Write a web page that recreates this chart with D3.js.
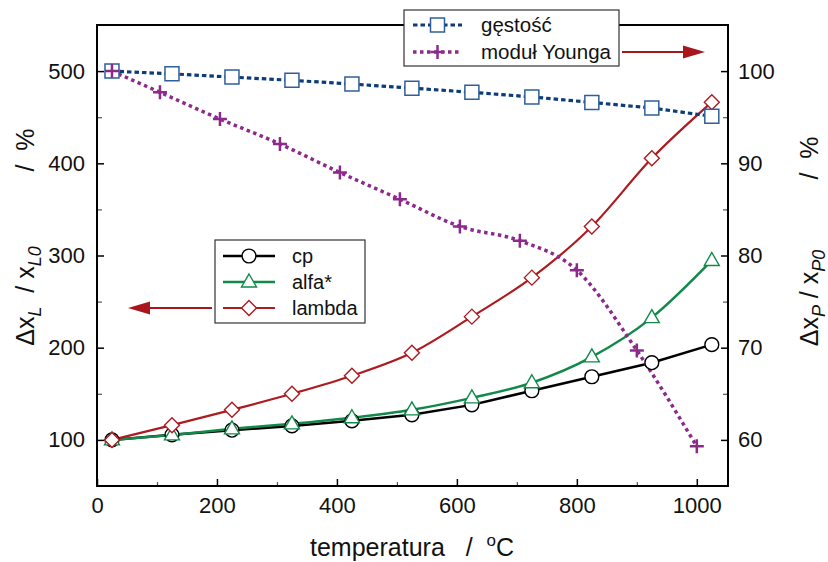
<!DOCTYPE html>
<html>
<head>
<meta charset="utf-8">
<script src="https://cdn.jsdelivr.net/npm/d3@7"></script>
<style>
  html, body { margin: 0; padding: 0; background: #fff; }
  svg { display: block; font-family: "Liberation Sans", Arial, sans-serif; }
  text { white-space: pre; }
</style>
</head>
<body>
<svg id="chart" width="828" height="562"></svg>
<script>
// ---------- data ----------
const temps = [25, 125, 225, 325, 425, 525, 625, 725, 825, 925, 1025];
const cp =     [100, 105.5, 110.5, 115.2, 120.7, 127.2, 138, 153.3, 168.5, 183.7, 203.3];
const alfa =   [100, 105.4, 112, 117.4, 124, 132.6, 145.6, 162, 190, 232.6, 294.6];
const lambda = [100, 116, 132.6, 150, 169.6, 194.5, 233.7, 276, 331.5, 405.4, 466.3];
const densityT = [25, 125, 225, 325, 425, 525, 625, 725, 825, 925, 1025];
const density = [100, 99.7, 99.35, 99.0, 98.6, 98.15, 97.7, 97.2, 96.6, 96.0, 95.1];
const youngT = [25, 105, 205, 305, 405, 505, 605, 705, 800, 900, 1000];
const young =  [100, 97.7, 94.8, 92.1, 89.0, 86.1, 83.15, 81.6, 78.4, 69.7, 59.3];
const xTickValues = [0, 200, 400, 600, 800, 1000];
const leftTickValues = [100, 200, 300, 400, 500];
const rightTickValues = [60, 70, 80, 90, 100];

// ---------- layout ----------
const svg = d3.select("#chart");
const L = 97, R = 728, T = 25, B = 486;
const x = d3.scaleLinear().domain([0, 1052]).range([L, R]);
const yL = d3.scaleLinear().domain([50, 550]).range([B, T]);
const yR = d3.scaleLinear().domain([55, 105]).range([B, T]);

const colors = {
  density: "#0d3c78", densityMk: "#2f5f9a",
  young: "#8c2a8c",
  cp: "#000000",
  alfa: "#11894a",
  lambda: "#ad1a1f",
  arrow: "#a8161b"
};

// ---------- axes ----------
function styleAxis(g, fs) {
  g.select(".domain").remove();
  g.selectAll("text").attr("font-size", fs).attr("fill", "#111")
    .attr("font-family", "Liberation Sans, Arial, sans-serif");
  g.selectAll("line").attr("stroke", "#000").attr("stroke-width", 1.5);
}

// minor ticks
const minorX = d3.range(100, 1050, 200);
const minorL = d3.range(150, 550, 100);
const minorR = d3.range(65, 105, 10);

svg.append("g").attr("transform", `translate(0,${B})`)
  .call(d3.axisBottom(x).tickValues(minorX).tickSize(-4).tickFormat(""))
  .call(g => { g.select(".domain").remove(); g.selectAll("line").attr("stroke", "#555").attr("stroke-width", 1.2); });
svg.append("g").attr("transform", `translate(${L},0)`)
  .call(d3.axisLeft(yL).tickValues(minorL).tickSize(-5).tickFormat(""))
  .call(g => { g.select(".domain").remove(); g.selectAll("line").attr("stroke", "#555").attr("stroke-width", 1.2); });
svg.append("g").attr("transform", `translate(${R},0)`)
  .call(d3.axisRight(yR).tickValues(minorR).tickSize(-5).tickFormat(""))
  .call(g => { g.select(".domain").remove(); g.selectAll("line").attr("stroke", "#555").attr("stroke-width", 1.2); });

svg.append("g").attr("transform", `translate(0,${B})`)
  .call(d3.axisBottom(x).tickValues(xTickValues).tickSize(-7).tickPadding(11).tickFormat(d3.format("d")))
  .call(g => styleAxis(g, 22));
svg.append("g").attr("transform", `translate(${L},0)`)
  .call(d3.axisLeft(yL).tickValues(leftTickValues).tickSize(-7).tickPadding(12).tickFormat(d3.format("d")))
  .call(g => styleAxis(g, 22));
svg.append("g").attr("transform", `translate(${R},0)`)
  .call(d3.axisRight(yR).tickValues(rightTickValues).tickSize(-7).tickPadding(10).tickFormat(d3.format("d")))
  .call(g => styleAxis(g, 22));

// frame
svg.append("rect").attr("x", L).attr("y", T).attr("width", R - L).attr("height", B - T)
  .attr("fill", "none").attr("stroke", "#000").attr("stroke-width", 2);

// ---------- markers ----------
const mk = {
  square: "M-7,-7H7V7H-7Z",
  plus: "M-7,0H7M0,-7V7",
  circle: d3.symbol().type(d3.symbolCircle).size(150)(),
  triangle: "M0,-8L7.5,5L-7.5,5Z",
  diamond: "M0,-7.5L7.5,0L0,7.5L-7.5,0Z"
};

function series(xs, ys, yScale, opts) {
  const pts = xs.map((d, i) => [x(d), yScale(ys[i])]);
  const line = d3.line().curve(opts.curve || d3.curveLinear);
  svg.append("path").attr("d", line(pts)).attr("fill", "none")
    .attr("stroke", opts.color).attr("stroke-width", opts.width)
    .attr("stroke-dasharray", opts.dash || null);
  return pts;
}
function markers(pts, opts) {
  svg.append("g").selectAll("path").data(pts).join("path")
    .attr("transform", d => `translate(${d[0]},${d[1]})`)
    .attr("d", opts.shape)
    .attr("fill", opts.fill)
    .attr("stroke", opts.stroke).attr("stroke-width", opts.sw);
}

const pCp = series(temps, cp, yL, { color: colors.cp, width: 2.5 });
const pAlfa = series(temps, alfa, yL, { color: colors.alfa, width: 2.5, curve: d3.curveMonotoneX });
const pLam = series(temps, lambda, yL, { color: colors.lambda, width: 2.2, curve: d3.curveMonotoneX });
const pDen = series(densityT, density, yR, { color: colors.density, width: 3.2, dash: "4.5,3" });
const pYou = series(youngT, young, yR, { color: colors.young, width: 3.5, dash: "3.5,3.5", curve: d3.curveMonotoneX });

markers(pCp, { shape: mk.circle, fill: "#fff", stroke: colors.cp, sw: 1.4 });
markers(pAlfa, { shape: mk.triangle, fill: "#fff", stroke: colors.alfa, sw: 1.4 });
markers(pLam, { shape: mk.diamond, fill: "#fff", stroke: colors.lambda, sw: 1.4 });
markers(pDen, { shape: mk.square, fill: "#fff", stroke: colors.densityMk, sw: 1.5 });
markers(pYou, { shape: mk.plus, fill: "none", stroke: colors.young, sw: 2.5 });

// ---------- legends ----------
function legend(box, rows, sx0, sx1, tx, fs) {
  svg.append("rect").attr("x", box[0]).attr("y", box[1]).attr("width", box[2]).attr("height", box[3])
    .attr("fill", "#fff").attr("stroke", "#333").attr("stroke-width", 1.2);
  rows.forEach(r => {
    svg.append("line").attr("x1", sx0).attr("x2", sx1).attr("y1", r.y).attr("y2", r.y)
      .attr("stroke", r.color).attr("stroke-width", r.width).attr("stroke-dasharray", r.dash || null);
    svg.append("path").attr("transform", `translate(${(sx0 + sx1) / 2},${r.y})`).attr("d", r.shape)
      .attr("fill", r.fill).attr("stroke", r.stroke).attr("stroke-width", r.sw);
    svg.append("text").attr("x", tx).attr("y", r.y + 7).attr("font-size", fs).attr("fill", "#111").text(r.label);
  });
}
legend([404, 10, 215, 56], [
  { y: 25, label: "gęstość", color: colors.density, width: 3.2, dash: "4.5,3", shape: mk.square, fill: "#fff", stroke: colors.densityMk, sw: 1.5 },
  { y: 52, label: "moduł Younga", color: colors.young, width: 3.5, dash: "3.5,3.5", shape: mk.plus, fill: "none", stroke: colors.young, sw: 2.5 }
], 413, 462, 481, 20.5);
legend([215, 240, 150, 83], [
  { y: 256, label: "cp", color: colors.cp, width: 2.5, shape: mk.circle, fill: "#fff", stroke: colors.cp, sw: 1.4 },
  { y: 282, label: "alfa*", color: colors.alfa, width: 2.5, shape: mk.triangle, fill: "#fff", stroke: colors.alfa, sw: 1.4 },
  { y: 308, label: "lambda", color: colors.lambda, width: 2.2, shape: mk.diamond, fill: "#fff", stroke: colors.lambda, sw: 1.4 }
], 223, 275, 292, 20);

// ---------- arrows ----------
function arrow(x0, x1, y) {
  const dir = Math.sign(x1 - x0);
  svg.append("line").attr("x1", x0).attr("x2", x1 - dir * 20).attr("y1", y).attr("y2", y)
    .attr("stroke", colors.arrow).attr("stroke-width", 2);
  svg.append("path").attr("d", `M${x1},${y}L${x1 - dir * 22},${y - 6.5}L${x1 - dir * 22},${y + 6.5}Z`)
    .attr("fill", colors.arrow);
}
arrow(622, 705, 52);
arrow(212, 128, 308);

// ---------- axis titles ----------
function rotLabel(cx, cy, parts) {
  const t = svg.append("text").attr("transform", `translate(${cx},${cy}) rotate(-90)`)
    .attr("text-anchor", "middle").attr("font-size", 25).attr("fill", "#111");
  parts.forEach(p => {
    const s = t.append("tspan").text(p.t);
    if (p.sub) s.attr("font-size", 18).attr("font-style", "italic").attr("dy", 7);
    if (p.up) s.attr("dy", -7);
  });
}
rotLabel(34, 296, [{ t: "Δx" }, { t: "L", sub: true }, { t: "  / x", up: true }, { t: "L0", sub: true }]);
rotLabel(34, 150, [{ t: "/  %" }]);
rotLabel(818, 298, [{ t: "Δx" }, { t: "P", sub: true }, { t: " / x", up: true }, { t: "P0", sub: true }]);
rotLabel(818, 158, [{ t: "/  %" }]);

const xl = svg.append("text").attr("x", 412).attr("y", 556).attr("text-anchor", "middle")
  .attr("font-size", 25).attr("fill", "#111");
xl.append("tspan").text("temperatura   /  ");
xl.append("tspan").text("o").attr("font-size", 17).attr("dy", -10);
xl.append("tspan").text("C").attr("dy", 10);
</script>
</body>
</html>
